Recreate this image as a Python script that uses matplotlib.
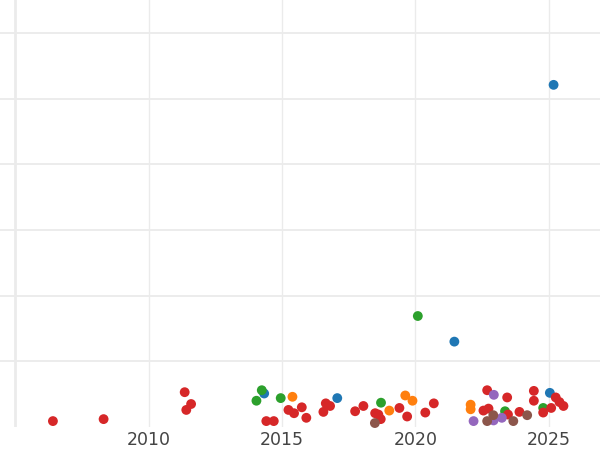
import matplotlib
matplotlib.use("Agg")
import matplotlib.pyplot as plt

# year (decimal) and value for each group
red_x = [2006.41, 2008.31, 2011.35, 2011.59, 2011.41, 2014.41, 2014.69, 2015.24, 2015.45,
         2015.74, 2015.91, 2016.64, 2016.80, 2016.55, 2017.74, 2018.05, 2018.49, 2018.61,
         2018.70, 2019.40, 2019.69, 2020.37, 2020.69, 2022.69, 2022.55, 2022.74, 2023.44,
         2023.47, 2023.90, 2024.44, 2024.44, 2024.79, 2025.09, 2025.26, 2025.40, 2025.55]
red_y = [0.09, 0.12, 0.53, 0.35, 0.26, 0.09, 0.09, 0.26, 0.21,
         0.30, 0.14, 0.36, 0.32, 0.23, 0.24, 0.32, 0.21, 0.19,
         0.12, 0.29, 0.16, 0.22, 0.36, 0.56, 0.25, 0.28, 0.45,
         0.19, 0.23, 0.55, 0.40, 0.22, 0.29, 0.45, 0.38, 0.32]

blue_x = [2014.33, 2017.07, 2021.46, 2025.18, 2025.04]
blue_y = [0.51, 0.44, 1.30, 5.21, 0.52]

green_x = [2014.24, 2014.04, 2014.95, 2018.71, 2020.09, 2023.36, 2024.79]
green_y = [0.56, 0.40, 0.44, 0.37, 1.69, 0.24, 0.29]

orange_x = [2015.39, 2019.02, 2019.62, 2019.89, 2022.07, 2022.07]
orange_y = [0.46, 0.25, 0.48, 0.40, 0.34, 0.27]

purple_x = [2022.18, 2022.94, 2022.93, 2023.24]
purple_y = [0.09, 0.49, 0.10, 0.14]

brown_x = [2018.48, 2022.69, 2022.92, 2023.67, 2024.19]
brown_y = [0.06, 0.09, 0.18, 0.09, 0.18]

x_ticks = [2010, 2015, 2020, 2025]

fig = plt.figure(figsize=(6, 4.5), dpi=100)
ax = fig.add_axes([0, 1 - 427 / 450, 1, 427 / 450])
ax.set_facecolor("white")
for s in ax.spines.values():
    s.set_visible(False)

ax.set_xlim(2004.426, 2026.92)
ax.set_ylim(0, 6.502)

grid_c = "#ebebeb"
for gx in [2005] + x_ticks:
    ax.axvline(gx, color=grid_c, lw=2.0 if gx == 2005 else 1.0, zorder=0)
for gy in [1, 2, 3, 4, 5, 6]:
    ax.axhline(gy, color=grid_c, lw=1.3, zorder=0)

ms = 50
groups = [
    (blue_x, blue_y, "#1f77b4"),
    (orange_x, orange_y, "#ff7f0e"),
    (green_x, green_y, "#2ca02c"),
    (red_x, red_y, "#d62728"),
    (purple_x, purple_y, "#9467bd"),
    (brown_x, brown_y, "#8c564b"),
]
for gx, gy, c in groups:
    ax.scatter(gx, gy, s=ms, color=c, edgecolors="none", zorder=3, clip_on=False)

ax.set_xticks(x_ticks)
ax.set_xticklabels([str(t) for t in x_ticks])
ax.set_yticks([])
ax.tick_params(axis="x", length=0, pad=3, labelsize=12.5, labelcolor="#444444")

fig.savefig("out.png", dpi=100, facecolor="white")
